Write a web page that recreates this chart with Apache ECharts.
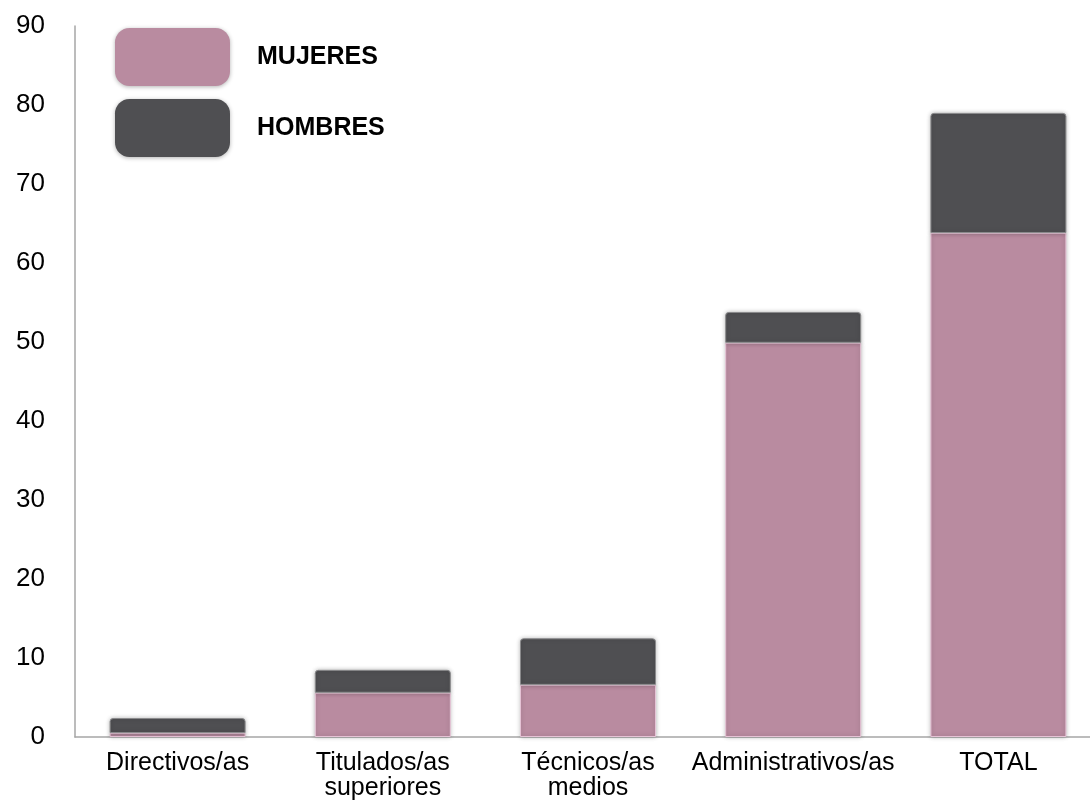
<!DOCTYPE html>
<html>
<head>
<meta charset="utf-8">
<script src="https://cdn.jsdelivr.net/npm/echarts@6/dist/echarts.min.js"></script>
<style>
  html, body { margin: 0; padding: 0; background: #ffffff; }
  #chart { width: 1090px; height: 801px; }
</style>
</head>
<body>
<div id="chart"></div>
<script>
// Plantilla por categoría profesional
const categories = ['Directivos/as', 'Titulados/as\nsuperiores', 'Técnicos/as\nmedios', 'Administrativos/as', 'TOTAL'];
const mujeres = [0.5, 5.6, 6.6, 49.9, 63.8];
const hombres = [1.9, 2.9, 5.9, 3.9, 15.2];
const yTicks = { min: 0, max: 90, interval: 10 };

const PINK = '#b98ba0';
const DARK = '#4f4f52';

const chart = echarts.init(document.getElementById('chart'));
chart.setOption({
  animation: false,
  backgroundColor: '#ffffff',
  grid: {
    left: 75, width: 1026, top: 26, bottom: 64,
    containLabel: false,
    outerBoundsMode: 'none'
  },
  legend: {
    orient: 'vertical',
    left: 115,
    top: 28,
    padding: 0,
    itemWidth: 115,
    itemHeight: 58,
    itemGap: 13,
    icon: 'roundRect',
    data: ['MUJERES', 'HOMBRES'],
    itemStyle: {
      borderWidth: 0,
      shadowColor: 'rgba(0,0,0,0.3)',
      shadowBlur: 4,
      shadowOffsetY: 1
    },
    textStyle: {
      fontFamily: 'Liberation Sans, Arial, sans-serif',
      fontWeight: 'bold',
      fontSize: 25,
      color: '#000000',
      padding: [0, 0, 0, 22]
    }
  },
  xAxis: {
    type: 'category',
    data: categories,
    axisLine: { show: true, lineStyle: { color: '#a6a6a6', width: 1.5 } },
    axisTick: { show: false },
    axisLabel: {
      interval: 0,
      margin: 14,
      fontFamily: 'Liberation Sans, Arial, sans-serif',
      fontSize: 25,
      lineHeight: 25,
      color: '#000000'
    }
  },
  yAxis: {
    type: 'value',
    min: yTicks.min,
    max: yTicks.max,
    interval: yTicks.interval,
    splitLine: { show: false },
    axisTick: { show: false },
    axisLine: { show: true, lineStyle: { color: '#a6a6a6', width: 1.5 } },
    axisLabel: {
      margin: 30,
      fontFamily: 'Liberation Sans, Arial, sans-serif',
      fontSize: 26,
      color: '#000000'
    }
  },
  series: [
    {
      name: 'MUJERES',
      type: 'bar',
      stack: 'total',
      barWidth: 136,
      data: mujeres,
      itemStyle: {
        color: PINK,
        borderColor: '#e6c3d6',
        borderWidth: 1,
        shadowColor: 'rgba(0,0,0,0.25)',
        shadowBlur: 4
      }
    },
    {
      name: 'HOMBRES',
      type: 'bar',
      stack: 'total',
      barWidth: 136,
      data: hombres,
      itemStyle: {
        color: DARK,
        borderColor: '#8a8a8c',
        borderWidth: 1,
        borderRadius: [3, 3, 0, 0],
        shadowColor: 'rgba(0,0,0,0.25)',
        shadowBlur: 4
      }
    }
  ]
});
</script>
</body>
</html>
